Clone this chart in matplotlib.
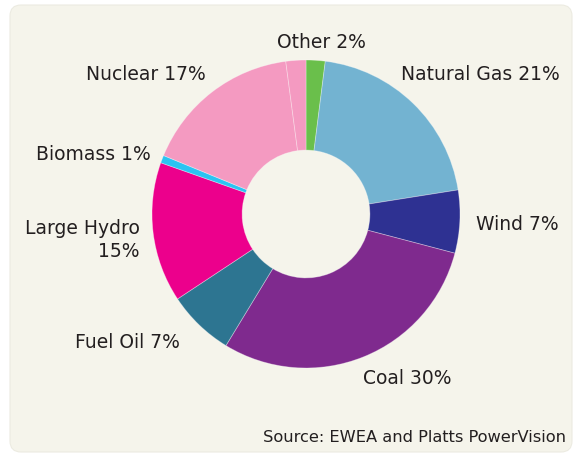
import matplotlib.pyplot as plt
from matplotlib.patches import FancyBboxPatch

labels = ['Other 2%', 'Natural Gas 21%', 'Wind 7%', 'Coal 30%', 'Fuel Oil 7%',
          'Large Hydro\n15%', 'Biomass 1%', 'Nuclear 17%', '']
# shares (last one is an unlabelled sliver)
shares = [2.0, 20.5, 6.6, 29.6, 7.0, 14.7, 0.8, 16.7, 2.1]
colors = ['#6abf4b', '#73b3d1', '#2e3192', '#7f2a8e', '#2d7591',
          '#ec008c', '#2bc4f2', '#f49ac1', '#f49ac1']
source = 'Source: EWEA and Platts PowerVision'

W, H = 577, 454
fig = plt.figure(figsize=(W / 100, H / 100), dpi=100)
fig.patch.set_facecolor('white')

# background panel in pixel coordinates
bg = fig.add_axes([0, 0, 1, 1])
bg.set_xlim(0, W)
bg.set_ylim(H, 0)
bg.axis('off')
bg.add_patch(FancyBboxPatch((10, 5), 562, 447,
                            boxstyle='round,pad=0,rounding_size=11',
                            facecolor='#f5f4eb', edgecolor='#ecebe1', lw=0.8))

# donut
cx, cy, r = 306, 214, 154
ax = fig.add_axes([(cx - r) / W, (H - cy - r) / H, 2 * r / W, 2 * r / H])
ax.pie(shares, colors=colors, startangle=90, counterclock=False,
       radius=1, wedgeprops=dict(width=0.585, linewidth=0.6,
                                 edgecolor=(1, 1, 1, 0.35)))
ax.set_xlim(-1, 1)
ax.set_ylim(-1, 1)
ax.axis('off')

# label positions (pixels): x, y, horizontal alignment
label_pos = [(321, 42, 'center'), (480, 75, 'center'), (517, 224, 'center'),
             (407, 378, 'center'), (127, 343, 'center'), (140, 240, 'right'),
             (93, 155, 'center'), (146, 75, 'center')]
for text, (x, y, ha) in zip(labels, label_pos):
    bg.text(x, y, text, ha=ha, va='center', fontsize=13.5, color='#231f20',
            family='DejaVu Sans', multialignment='right', linespacing=1.25)

bg.text(566, 437, source, ha='right', va='center', fontsize=11.7,
        color='#231f20', family='DejaVu Sans')

fig.savefig('out.png', dpi=100)
